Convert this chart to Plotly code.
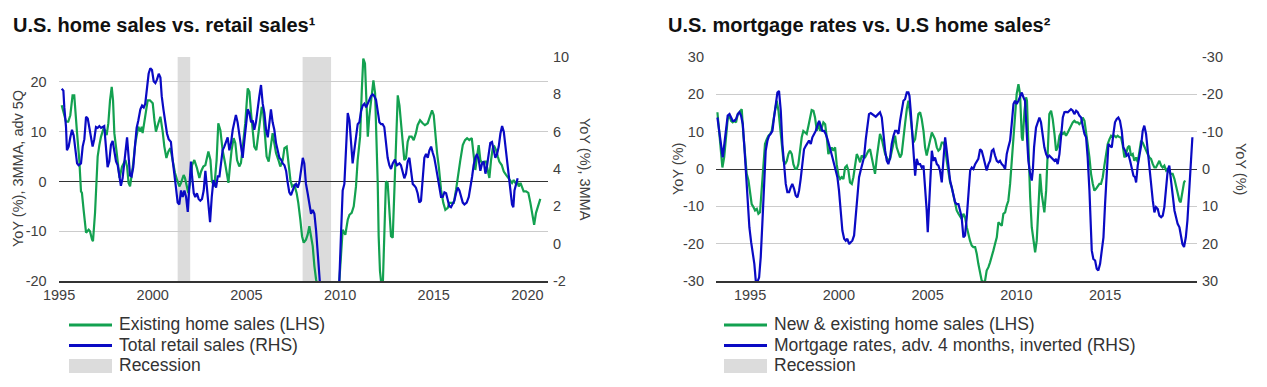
import plotly.graph_objects as go

W, H = 1267, 387

# ---------------- DATA: left chart (U.S. home sales vs. retail sales) ----------------
existing_home_sales = [  # (year, YoY %, LHS)
    (1995.14, 15.3), (1995.37, 12.0), (1995.49, 12.0), (1995.60, 13.3), (1995.72, 17.3), (1995.81, 17.3),
    (1995.96, 9.7), (1996.08, 4.3), (1996.17, -2.0), (1996.22, -2.3), (1996.31, -5.7), (1996.44, -10.3),
    (1996.58, -9.7), (1996.65, -10.0), (1996.76, -11.7), (1996.81, -12.0), (1996.92, -6.3), (1997.06, 5.0),
    (1997.15, 7.3), (1997.24, 9.0), (1997.38, 10.7), (1997.45, 10.3), (1997.54, 9.3), (1997.63, 11.7),
    (1997.72, 16.3), (1997.81, 19.0), (1997.88, 16.3), (1997.95, 9.7), (1998.06, 6.3), (1998.14, 3.0),
    (1998.23, 0.7), (1998.36, 3.0), (1998.45, 3.7), (1998.54, 4.3), (1998.63, 3.0), (1998.71, -0.3),
    (1998.79, -1.0), (1998.87, 1.0), (1998.96, 3.7), (1999.07, 7.7), (1999.23, 11.0), (1999.34, 10.0),
    (1999.41, 11.0), (1999.46, 9.7), (1999.59, 13.0), (1999.73, 16.3), (1999.85, 16.3), (2000.00, 15.7),
    (2000.09, 12.3), (2000.17, 10.0), (2000.30, 11.7), (2000.41, 13.0), (2000.53, 10.0), (2000.62, 7.0),
    (2000.73, 4.7), (2000.83, 6.0), (2000.94, 6.7), (2001.06, 4.0), (2001.19, 1.7), (2001.30, 0.3),
    (2001.42, -1.0), (2001.51, -0.3), (2001.65, 1.3), (2001.72, 0.7), (2001.83, -1.0), (2001.90, -2.3),
    (2001.99, -0.3), (2002.10, 3.3), (2002.22, 4.3), (2002.36, 2.7), (2002.49, 0.7), (2002.58, 2.0),
    (2002.70, 3.0), (2002.81, 3.3), (2002.97, 6.0), (2003.08, 4.3), (2003.16, 0.0), (2003.29, -1.0),
    (2003.41, 4.3), (2003.50, 11.7), (2003.61, 10.3), (2003.73, 6.3), (2003.86, 3.7), (2003.96, 1.0),
    (2004.04, -0.3), (2004.12, 3.0), (2004.21, 6.3), (2004.32, 8.7), (2004.41, 7.7), (2004.50, 4.3),
    (2004.62, 3.0), (2004.71, 3.7), (2004.84, 7.7), (2004.94, 11.7), (2005.07, 18.7), (2005.16, 18.0),
    (2005.25, 13.7), (2005.34, 10.3), (2005.42, 7.0), (2005.53, 6.3), (2005.64, 9.7), (2005.73, 13.0),
    (2005.82, 15.0), (2005.90, 13.7), (2005.99, 9.0), (2006.08, 5.0), (2006.19, 4.0), (2006.28, 6.3),
    (2006.40, 9.7), (2006.49, 7.7), (2006.58, 5.7), (2006.71, 4.3), (2006.81, 3.0), (2006.94, 4.3),
    (2007.03, 6.7), (2007.15, 7.0), (2007.24, 4.3), (2007.35, 0.3), (2007.44, -1.0), (2007.56, -0.7),
    (2007.68, -2.3), (2007.77, -4.3), (2007.88, -7.7), (2007.97, -11.0), (2008.06, -12.3), (2008.18, -11.7),
    (2008.27, -10.7), (2008.36, -9.0), (2008.45, -11.0), (2008.54, -13.0), (2008.63, -17.0), (2008.72, -19.7),
    (2008.90, -23.0), (2009.20, -26.0), (2009.50, -26.5), (2009.80, -23.5), (2009.96, -20.0), (2010.14, -9.7),
    (2010.28, -10.7), (2010.41, -7.7), (2010.50, -6.7), (2010.62, -6.3), (2010.73, -5.0), (2010.85, -1.0),
    (2010.94, 4.3), (2011.07, 9.0), (2011.16, 18.3), (2011.24, 24.7), (2011.33, 23.7), (2011.42, 16.3),
    (2011.48, 9.0), (2011.56, 13.0), (2011.69, 17.0), (2011.78, 20.3), (2011.87, 17.7), (2011.96, 8.3),
    (2012.01, -0.3), (2012.06, -11.0), (2012.13, -18.0), (2012.20, -20.5), (2012.28, -21.0), (2012.36, -11.0),
    (2012.45, 0.0), (2012.54, -0.3), (2012.63, -5.0), (2012.72, -11.0), (2012.81, -11.3), (2012.90, -0.3),
    (2012.99, 11.0), (2013.08, 17.3), (2013.17, 15.3), (2013.25, 12.3), (2013.34, 7.7), (2013.43, 4.3),
    (2013.52, 4.7), (2013.61, 8.0), (2013.70, 9.0), (2013.82, 9.0), (2013.93, 8.3), (2014.05, 9.7),
    (2014.14, 11.3), (2014.27, 12.3), (2014.41, 11.7), (2014.53, 11.3), (2014.68, 11.7), (2014.80, 13.3),
    (2014.91, 14.3), (2015.00, 13.3), (2015.09, 9.0), (2015.18, 5.7), (2015.27, 3.0), (2015.39, -1.7),
    (2015.51, -4.3), (2015.62, -5.7), (2015.75, -5.3), (2015.83, -4.3), (2015.96, -4.3), (2016.07, -4.3),
    (2016.19, -1.7), (2016.32, 2.3), (2016.42, 4.3), (2016.55, 7.3), (2016.67, 8.3), (2016.78, 8.7),
    (2016.90, 8.3), (2017.03, 8.7), (2017.13, 5.0), (2017.22, 2.3), (2017.31, 5.0), (2017.40, 7.3),
    (2017.49, 4.3), (2017.58, 3.7), (2017.70, 4.0), (2017.79, 4.0), (2017.88, 2.3), (2017.97, 0.7),
    (2018.06, 4.3), (2018.15, 6.7), (2018.24, 7.0), (2018.33, 6.3), (2018.42, 5.0), (2018.50, 4.0),
    (2018.63, 3.3), (2018.74, 2.0), (2018.86, 1.3), (2018.99, 0.7), (2019.09, 0.3), (2019.18, -0.3),
    (2019.27, 0.3), (2019.36, -0.3), (2019.45, 0.0), (2019.54, -1.0), (2019.63, -0.3), (2019.72, -1.3),
    (2019.80, -2.0), (2019.93, -2.0), (2020.05, -2.3), (2020.16, -4.3), (2020.25, -6.3), (2020.36, -8.7),
    (2020.46, -6.3), (2020.59, -4.7), (2020.69, -3.5),
]

total_retail_sales = [  # (year, YoY %, RHS)
    (1995.14, 8.3), (1995.23, 8.2), (1995.28, 7.3), (1995.37, 6.25), (1995.42, 5.0), (1995.51, 5.2),
    (1995.60, 5.7), (1995.69, 6.1), (1995.78, 5.8), (1995.87, 5.0), (1995.96, 4.3), (1996.04, 4.2),
    (1996.17, 4.3), (1996.26, 5.2), (1996.35, 5.6), (1996.44, 6.8), (1996.53, 6.7), (1996.61, 6.25),
    (1996.70, 5.6), (1996.79, 5.2), (1996.88, 5.6), (1996.97, 6.25), (1997.06, 6.2), (1997.15, 6.3),
    (1997.24, 6.2), (1997.33, 6.25), (1997.41, 6.3), (1997.50, 5.2), (1997.59, 4.1), (1997.68, 4.4),
    (1997.77, 5.3), (1997.86, 5.5), (1997.95, 5.0), (1998.04, 4.4), (1998.13, 4.2), (1998.22, 3.7),
    (1998.30, 3.1), (1998.39, 3.5), (1998.48, 4.3), (1998.57, 5.0), (1998.63, 5.7), (1998.70, 4.8),
    (1998.79, 3.65), (1998.87, 3.6), (1998.96, 4.1), (1999.05, 5.2), (1999.14, 6.2), (1999.23, 6.6),
    (1999.34, 7.2), (1999.43, 7.4), (1999.52, 7.3), (1999.60, 7.5), (1999.69, 8.4), (1999.78, 9.1),
    (1999.87, 9.4), (1999.96, 9.3), (2000.05, 8.7), (2000.14, 8.6), (2000.23, 8.8), (2000.32, 9.1),
    (2000.41, 8.9), (2000.48, 7.9), (2000.57, 7.2), (2000.66, 6.6), (2000.76, 5.9), (2000.85, 5.6),
    (2000.97, 5.45), (2001.06, 4.5), (2001.15, 3.6), (2001.24, 3.0), (2001.33, 2.2), (2001.42, 2.1),
    (2001.51, 2.85), (2001.60, 2.5), (2001.69, 2.85), (2001.78, 2.5), (2001.87, 1.7), (2001.95, 2.85),
    (2002.04, 4.4), (2002.10, 3.6), (2002.19, 2.7), (2002.27, 2.5), (2002.36, 2.7), (2002.45, 2.4),
    (2002.54, 2.3), (2002.63, 2.4), (2002.72, 2.85), (2002.81, 3.9), (2002.90, 2.9), (2002.98, 1.6),
    (2003.06, 1.15), (2003.15, 2.5), (2003.24, 3.4), (2003.38, 3.0), (2003.47, 3.6), (2003.56, 3.6),
    (2003.64, 4.3), (2003.73, 5.0), (2003.82, 5.2), (2003.91, 5.5), (2004.00, 5.7), (2004.09, 5.0),
    (2004.18, 5.4), (2004.27, 6.1), (2004.36, 6.5), (2004.44, 6.9), (2004.53, 6.5), (2004.62, 5.9),
    (2004.71, 5.2), (2004.80, 4.6), (2004.89, 5.5), (2004.98, 6.25), (2005.07, 7.2), (2005.16, 7.0),
    (2005.25, 6.5), (2005.34, 6.6), (2005.42, 6.1), (2005.51, 6.5), (2005.60, 7.3), (2005.69, 7.9),
    (2005.78, 8.5), (2005.87, 7.5), (2005.96, 7.0), (2006.05, 6.1), (2006.14, 5.7), (2006.22, 6.4),
    (2006.31, 7.2), (2006.40, 6.5), (2006.49, 6.1), (2006.58, 5.4), (2006.67, 5.0), (2006.76, 4.6),
    (2006.85, 4.5), (2006.94, 4.3), (2007.03, 4.2), (2007.12, 3.9), (2007.20, 3.3), (2007.29, 2.75),
    (2007.38, 2.6), (2007.47, 2.85), (2007.56, 3.1), (2007.65, 3.2), (2007.74, 3.0), (2007.83, 3.3),
    (2007.92, 3.9), (2008.01, 4.6), (2008.09, 4.3), (2008.18, 3.2), (2008.27, 2.7), (2008.36, 2.1),
    (2008.45, 1.6), (2008.54, 1.8), (2008.63, 1.6), (2008.72, 0.7), (2008.81, -0.7), (2008.90, -2.0),
    (2009.10, -4.5), (2009.35, -6.0), (2009.60, -5.5), (2009.85, -3.5), (2009.96, -2.0), (2010.05, 0.5),
    (2010.14, 2.85), (2010.23, 3.2), (2010.32, 5.2), (2010.41, 7.0), (2010.50, 6.6), (2010.59, 5.4),
    (2010.67, 4.3), (2010.76, 5.0), (2010.85, 5.7), (2010.94, 6.4), (2011.03, 6.5), (2011.12, 7.1),
    (2011.21, 7.4), (2011.30, 7.5), (2011.39, 7.3), (2011.48, 7.5), (2011.56, 7.7), (2011.65, 7.9),
    (2011.74, 8.0), (2011.83, 7.9), (2011.92, 7.7), (2012.01, 7.2), (2012.10, 6.5), (2012.19, 6.4),
    (2012.27, 6.4), (2012.36, 6.25), (2012.45, 5.4), (2012.54, 4.6), (2012.63, 4.2), (2012.72, 4.0),
    (2012.81, 4.3), (2012.93, 4.5), (2013.04, 4.2), (2013.17, 4.3), (2013.25, 4.2), (2013.34, 3.9),
    (2013.43, 3.5), (2013.52, 3.75), (2013.61, 4.4), (2013.70, 4.6), (2013.79, 3.9), (2013.88, 3.2),
    (2013.97, 3.1), (2014.05, 3.0), (2014.14, 2.7), (2014.23, 2.2), (2014.32, 2.3), (2014.41, 3.6),
    (2014.50, 4.6), (2014.59, 4.8), (2014.68, 4.6), (2014.77, 5.0), (2014.86, 5.2), (2014.94, 4.9),
    (2015.03, 4.6), (2015.12, 4.1), (2015.21, 3.6), (2015.30, 3.0), (2015.39, 2.5), (2015.48, 2.5),
    (2015.57, 2.75), (2015.66, 2.7), (2015.75, 2.4), (2015.83, 2.0), (2015.92, 1.95), (2016.01, 2.1),
    (2016.10, 2.3), (2016.19, 2.7), (2016.28, 3.0), (2016.37, 2.85), (2016.46, 2.5), (2016.55, 2.2),
    (2016.64, 2.1), (2016.76, 2.2), (2016.87, 2.5), (2016.96, 3.0), (2017.05, 3.6), (2017.13, 4.2),
    (2017.22, 4.6), (2017.31, 4.8), (2017.40, 4.5), (2017.49, 3.9), (2017.58, 4.3), (2017.67, 4.4),
    (2017.76, 3.75), (2017.85, 4.2), (2017.94, 5.0), (2018.02, 5.4), (2018.11, 5.45), (2018.20, 5.0),
    (2018.29, 4.6), (2018.38, 4.8), (2018.47, 5.2), (2018.56, 5.9), (2018.65, 6.3), (2018.74, 6.0),
    (2018.83, 5.2), (2018.92, 4.3), (2019.00, 3.6), (2019.09, 2.85), (2019.18, 2.1), (2019.25, 1.95),
    (2019.31, 2.85), (2019.40, 3.2), (2019.48, 3.5),
]

recession_start = [2001.33, 2008.00]
recession_end = [2002.00, 2009.52]

left_x_ticks = [1995, 2000, 2005, 2010, 2015, 2020]
left_y_ticks = [-20, -10, 0, 10, 20, 25]
left_y_labels = ["-20", "-10", "0", "10", "20", ""]
left_y2_ticks = [-2, 0, 2, 4, 6, 8, 10]
left_y2_labels = ["-2", "0", "2", "4", "6", "8", "10"]

# ---------------- DATA: right chart (mortgage rates vs. home sales) ----------------
new_existing_home_sales = [  # (year, YoY %, LHS)
    (1993.16, 15.2), (1993.27, 8.5), (1993.37, 3.1), (1993.44, 0.4), (1993.54, 3.1), (1993.65, 9.4),
    (1993.74, 13.4), (1993.84, 14.3), (1993.93, 12.9), (1994.02, 12.5), (1994.12, 12.9), (1994.21, 12.5),
    (1994.31, 14.7), (1994.40, 15.2), (1994.53, 16.0), (1994.62, 9.4), (1994.72, 3.1), (1994.81, -1.3),
    (1994.91, -3.1), (1995.00, -5.8), (1995.09, -9.4), (1995.19, -10.2), (1995.28, -11.1), (1995.38, -10.7),
    (1995.47, -12.0), (1995.56, -11.6), (1995.66, -4.9), (1995.75, 3.1), (1995.84, 6.7), (1995.94, 8.0),
    (1996.03, 8.9), (1996.13, 9.4), (1996.22, 10.2), (1996.31, 12.9), (1996.41, 16.5), (1996.50, 18.3),
    (1996.60, 15.6), (1996.69, 11.1), (1996.78, 5.8), (1996.88, 2.2), (1996.97, 1.3), (1997.07, 2.2),
    (1997.16, 4.0), (1997.25, 4.9), (1997.35, 4.0), (1997.44, 1.3), (1997.54, 0.0), (1997.63, 0.0),
    (1997.72, 1.3), (1997.82, 4.9), (1997.91, 8.5), (1998.00, 10.2), (1998.10, 9.8), (1998.19, 9.4),
    (1998.29, 11.6), (1998.38, 14.3), (1998.47, 15.8), (1998.57, 15.6), (1998.66, 13.8), (1998.76, 10.2),
    (1998.85, 12.5), (1998.94, 10.2), (1999.04, 11.1), (1999.13, 12.5), (1999.23, 12.0), (1999.32, 8.5),
    (1999.41, 4.0), (1999.51, 4.9), (1999.60, 5.8), (1999.69, 4.9), (1999.79, 5.8), (1999.88, 1.3),
    (1999.98, -1.8), (2000.07, -2.7), (2000.16, -2.2), (2000.26, -2.7), (2000.35, 0.4), (2000.45, 0.9),
    (2000.54, -0.4), (2000.63, -3.6), (2000.73, -4.0), (2000.82, -2.2), (2000.92, 1.8), (2001.01, 4.0),
    (2001.10, 3.1), (2001.20, 1.8), (2001.29, 3.6), (2001.39, 3.1), (2001.48, 3.1), (2001.57, 4.0),
    (2001.67, 4.9), (2001.76, 5.3), (2001.85, 3.1), (2001.95, 0.4), (2002.04, -1.3), (2002.14, 3.1),
    (2002.23, 6.7), (2002.32, 9.4), (2002.42, 8.0), (2002.51, 5.8), (2002.61, 4.0), (2002.70, 3.1),
    (2002.79, 2.2), (2002.89, 2.7), (2002.98, 4.9), (2003.08, 7.6), (2003.17, 8.9), (2003.26, 5.8),
    (2003.36, 4.0), (2003.45, 3.1), (2003.54, 4.0), (2003.64, 7.6), (2003.73, 12.0), (2003.83, 16.0),
    (2003.92, 18.3), (2004.01, 15.2), (2004.11, 11.1), (2004.20, 7.1), (2004.30, 8.0), (2004.39, 11.6),
    (2004.48, 14.7), (2004.58, 15.2), (2004.67, 13.4), (2004.77, 10.2), (2004.86, 5.8), (2004.95, 3.6),
    (2005.05, 5.8), (2005.14, 8.5), (2005.24, 9.8), (2005.33, 8.9), (2005.42, 8.0), (2005.52, 5.8),
    (2005.61, 4.9), (2005.70, 5.3), (2005.80, 7.1), (2005.89, 7.1), (2005.99, 5.8), (2006.08, 2.2),
    (2006.17, -1.3), (2006.27, -3.6), (2006.36, -4.9), (2006.46, -7.1), (2006.55, -9.4), (2006.64, -11.1),
    (2006.74, -12.0), (2006.83, -12.9), (2006.92, -13.4), (2007.02, -12.0), (2007.11, -12.9), (2007.21, -15.6),
    (2007.30, -17.8), (2007.39, -19.2), (2007.49, -20.5), (2007.58, -20.9), (2007.68, -20.9), (2007.77, -22.7),
    (2007.86, -25.4), (2007.96, -28.1), (2008.05, -29.9), (2008.15, -30.3), (2008.24, -29.9), (2008.33, -27.2),
    (2008.43, -26.3), (2008.52, -25.0), (2008.62, -23.6), (2008.71, -21.8), (2008.80, -20.1), (2008.90, -18.3),
    (2008.99, -14.3), (2009.08, -14.7), (2009.18, -15.2), (2009.27, -12.0), (2009.37, -11.6), (2009.46, -9.8),
    (2009.55, -8.5), (2009.65, -4.0), (2009.74, 2.2), (2009.84, 9.4), (2009.93, 15.6), (2010.02, 20.1),
    (2010.12, 22.7), (2010.21, 20.1), (2010.31, 8.5), (2010.36, 7.6), (2010.46, 15.6), (2010.55, 19.2),
    (2010.60, 18.3), (2010.68, 4.9), (2010.78, -7.6), (2010.87, -15.6), (2010.96, -19.6), (2011.06, -22.3),
    (2011.15, -19.2), (2011.24, -10.2), (2011.34, -1.3), (2011.43, -6.7), (2011.53, -11.1), (2011.58, -11.6),
    (2011.68, -5.8), (2011.77, 4.0), (2011.86, 14.7), (2011.96, 15.6), (2012.05, 13.4), (2012.15, 9.4),
    (2012.24, 4.9), (2012.33, 5.8), (2012.43, 8.9), (2012.52, 9.8), (2012.62, 9.4), (2012.71, 9.8),
    (2012.80, 8.9), (2012.90, 9.8), (2012.99, 10.7), (2013.08, 11.6), (2013.18, 12.5), (2013.27, 12.9),
    (2013.37, 12.5), (2013.46, 12.5), (2013.55, 12.0), (2013.65, 12.5), (2013.74, 13.8), (2013.84, 12.9),
    (2013.93, 10.2), (2014.02, 6.7), (2014.12, 3.1), (2014.21, -1.3), (2014.31, -4.0), (2014.40, -5.8),
    (2014.49, -5.3), (2014.59, -4.5), (2014.68, -4.0), (2014.77, -4.0), (2014.87, -2.2), (2014.96, 0.9),
    (2015.06, 4.0), (2015.15, 6.7), (2015.25, 8.0), (2015.34, 8.9), (2015.43, 8.5), (2015.53, 8.9),
    (2015.62, 8.5), (2015.71, 8.9), (2015.81, 8.5), (2015.90, 8.5), (2016.00, 6.2), (2016.09, 3.1),
    (2016.18, 4.0), (2016.28, 5.8), (2016.37, 6.2), (2016.46, 3.6), (2016.56, 4.0), (2016.65, 2.2),
    (2016.75, 3.1), (2016.84, 1.8), (2016.93, 4.5), (2017.03, 7.6), (2017.12, 7.1), (2017.22, 5.8),
    (2017.31, 4.9), (2017.40, 4.0), (2017.50, 3.1), (2017.59, 2.7), (2017.69, 1.3), (2017.78, 0.4),
    (2017.87, 0.4), (2017.97, 1.3), (2018.06, 2.2), (2018.16, 0.9), (2018.25, 0.4), (2018.34, 0.9),
    (2018.44, -0.4), (2018.53, 0.0), (2018.62, -0.9), (2018.72, -1.3), (2018.81, -1.3), (2018.91, -2.7),
    (2019.00, -4.9), (2019.09, -6.7), (2019.19, -8.5), (2019.26, -8.9), (2019.36, -5.8), (2019.45, -3.6),
    (2019.51, -3.1),
]

mortgage_rates = [  # (year, YoY %, RHS, axis inverted)
    (1993.16, -13.8), (1993.27, -10.2), (1993.37, -5.8), (1993.46, -3.1), (1993.55, -6.7), (1993.65, -11.6),
    (1993.74, -14.3), (1993.84, -14.7), (1993.93, -13.8), (1994.02, -12.9), (1994.12, -12.9), (1994.21, -13.4),
    (1994.31, -14.7), (1994.40, -15.2), (1994.49, -14.3), (1994.59, -12.0), (1994.68, -5.8), (1994.77, 2.2),
    (1994.87, 9.4), (1994.96, 15.6), (1995.06, 19.6), (1995.15, 22.7), (1995.24, 25.4), (1995.32, 29.9),
    (1995.41, 30.3), (1995.51, 29.0), (1995.60, 23.6), (1995.69, 14.7), (1995.79, 3.1), (1995.88, -4.9),
    (1995.98, -7.6), (1996.07, -8.9), (1996.16, -9.4), (1996.26, -10.2), (1996.35, -13.8), (1996.45, -18.3),
    (1996.54, -20.5), (1996.63, -20.9), (1996.73, -15.6), (1996.82, -6.7), (1996.92, -0.4), (1997.01, 4.0),
    (1997.10, 6.2), (1997.20, 6.2), (1997.29, 4.9), (1997.38, 4.0), (1997.48, 5.3), (1997.57, 7.1),
    (1997.67, 7.6), (1997.76, 5.8), (1997.85, 2.7), (1997.95, -1.3), (1998.04, -5.3), (1998.14, -6.2),
    (1998.23, -7.1), (1998.32, -7.6), (1998.42, -6.7), (1998.51, -8.5), (1998.61, -9.4), (1998.70, -10.2),
    (1998.79, -11.6), (1998.89, -12.9), (1998.98, -11.6), (1999.07, -10.2), (1999.17, -10.2), (1999.26, -9.4),
    (1999.36, -8.0), (1999.45, -6.7), (1999.54, -4.9), (1999.64, -3.1), (1999.73, -1.3), (1999.83, 0.4),
    (1999.92, 2.2), (2000.01, 5.8), (2000.11, 11.1), (2000.20, 16.5), (2000.30, 18.7), (2000.39, 19.2),
    (2000.48, 18.7), (2000.58, 20.1), (2000.67, 19.6), (2000.76, 19.2), (2000.86, 17.8), (2000.95, 12.9),
    (2001.05, 5.8), (2001.14, 2.2), (2001.23, 0.4), (2001.33, -1.3), (2001.42, -3.1), (2001.52, -8.0),
    (2001.61, -12.0), (2001.70, -14.7), (2001.80, -15.0), (2001.89, -14.7), (2001.99, -14.3), (2002.08, -14.0),
    (2002.18, -14.5), (2002.27, -15.0), (2002.32, -15.2), (2002.42, -13.8), (2002.51, -9.4), (2002.61, -4.9),
    (2002.70, -2.2), (2002.79, -1.3), (2002.89, -3.1), (2002.98, -6.7), (2003.08, -8.9), (2003.17, -10.2),
    (2003.26, -10.2), (2003.36, -9.4), (2003.45, -12.9), (2003.54, -15.6), (2003.64, -18.3), (2003.73, -18.7),
    (2003.83, -20.5), (2003.92, -20.5), (2003.98, -19.6), (2004.05, -15.6), (2004.15, -8.5), (2004.24, -2.2),
    (2004.30, 1.8), (2004.39, -2.7), (2004.48, -1.3), (2004.58, -1.3), (2004.67, -0.4), (2004.77, -0.9),
    (2004.86, 4.0), (2004.95, 11.1), (2005.01, 16.9), (2005.08, 10.2), (2005.16, -0.4), (2005.24, -4.9),
    (2005.33, -2.2), (2005.42, -3.1), (2005.52, -1.3), (2005.61, -0.9), (2005.70, 0.4), (2005.80, 3.6),
    (2005.89, -2.2), (2005.99, -8.5), (2006.08, -4.9), (2006.17, -0.4), (2006.27, 3.1), (2006.36, 4.9),
    (2006.46, 6.7), (2006.55, 8.9), (2006.64, 9.4), (2006.74, 9.4), (2006.83, 11.1), (2006.92, 12.9),
    (2007.02, 18.3), (2007.11, 17.8), (2007.21, 12.9), (2007.30, 6.7), (2007.40, 0.4), (2007.49, -0.4),
    (2007.58, 0.0), (2007.68, -1.3), (2007.77, -2.2), (2007.86, -2.7), (2007.96, -5.3), (2008.05, -4.9),
    (2008.15, -3.1), (2008.24, -1.3), (2008.33, 0.4), (2008.43, -1.3), (2008.52, -2.2), (2008.62, -4.9),
    (2008.71, -5.3), (2008.80, -3.6), (2008.90, -2.2), (2008.99, -1.8), (2009.08, -2.2), (2009.18, -1.3),
    (2009.27, -0.9), (2009.37, 0.0), (2009.46, -4.0), (2009.55, -5.8), (2009.65, -7.6), (2009.74, -12.0),
    (2009.84, -17.4), (2009.93, -18.3), (2010.02, -17.4), (2010.12, -18.3), (2010.21, -19.2), (2010.31, -20.5),
    (2010.40, -19.2), (2010.49, -18.3), (2010.59, -9.4), (2010.68, -2.2), (2010.78, 1.3), (2010.87, 3.1),
    (2010.93, 0.4), (2011.00, -5.8), (2011.11, -11.1), (2011.21, -12.5), (2011.30, -13.8), (2011.39, -12.5),
    (2011.49, -8.5), (2011.58, -5.8), (2011.68, -4.0), (2011.77, -3.1), (2011.86, -3.6), (2011.96, -3.1),
    (2012.05, -2.7), (2012.15, -2.2), (2012.24, -2.7), (2012.33, -1.3), (2012.43, -4.0), (2012.52, -9.4),
    (2012.62, -13.8), (2012.71, -15.2), (2012.80, -15.3), (2012.90, -15.2), (2012.99, -15.6), (2013.08, -16.0),
    (2013.18, -15.6), (2013.27, -14.7), (2013.37, -15.6), (2013.46, -15.2), (2013.55, -14.3), (2013.65, -13.8),
    (2013.74, -11.6), (2013.84, -9.4), (2013.93, -8.5), (2014.02, -3.1), (2014.12, 5.8), (2014.19, 15.6),
    (2014.25, 21.8), (2014.34, 24.1), (2014.44, 24.5), (2014.53, 26.7), (2014.62, 27.2), (2014.72, 25.4),
    (2014.81, 21.4), (2014.91, 18.3), (2015.00, 9.4), (2015.09, 2.2), (2015.19, -6.7), (2015.28, -6.2),
    (2015.38, -5.8), (2015.47, -9.4), (2015.56, -12.5), (2015.66, -13.4), (2015.75, -13.8), (2015.84, -12.9),
    (2015.94, -10.2), (2016.03, -5.8), (2016.13, -4.9), (2016.22, -3.6), (2016.31, -4.0), (2016.41, -2.2),
    (2016.50, -0.4), (2016.60, 1.8), (2016.69, 2.2), (2016.75, 3.6), (2016.84, -0.9), (2016.93, -3.1),
    (2017.03, -6.2), (2017.12, -10.2), (2017.21, -11.6), (2017.31, -9.4), (2017.40, -4.9), (2017.50, -1.3),
    (2017.59, 4.0), (2017.69, 8.5), (2017.78, 11.6), (2017.87, 10.2), (2017.97, 10.7), (2018.06, 12.5),
    (2018.16, 12.9), (2018.25, 12.5), (2018.34, 10.2), (2018.44, 4.9), (2018.53, 0.4), (2018.62, -0.9),
    (2018.72, 3.1), (2018.81, 7.6), (2018.91, 11.1), (2019.00, 12.9), (2019.09, 14.7), (2019.19, 15.6),
    (2019.26, 17.4), (2019.36, 20.1), (2019.45, 20.9), (2019.55, 18.3), (2019.64, 13.8), (2019.73, 5.8),
    (2019.83, -2.2), (2019.92, -8.5),
]

right_x_ticks = [1995, 2000, 2005, 2010, 2015]
right_y_ticks = [-30, -20, -10, 0, 10, 20, 30]
right_y_labels = ["-30", "-20", "-10", "0", "10", "20", "30"]

titles = ["U.S. home sales vs. retail sales¹", "U.S. mortgage rates vs. U.S home sales²"]
left_series_names = ["Existing home sales (LHS)", "Total retail sales (RHS)", "Recession"]
right_series_names = ["New & existing home sales (LHS)", "Mortgage rates, adv. 4 months, inverted (RHS)", "Recession"]

# ---------------- STYLE ----------------
GREEN = "#13a150"
BLUE = "#0a0ac4"
REC = "#dcdcdc"
GRID = "#cccccc"
AXIS = "#333333"
TICK = "#404040"
FONT = "Liberation Sans, Arial, sans-serif"


def px(x):
    return x / W


def py(y):
    return 1 - y / H


ydom = [py(281), py(57)]
left_dom = [px(58.7), px(548)]
right_dom = [px(716), px(1197)]

fig = go.Figure()


def split(pairs):
    return [p[0] for p in pairs], [p[1] for p in pairs]


hx, hy = split(existing_home_sales)
rx, ry = split(total_retail_sales)
nx, ny = split(new_existing_home_sales)
mx, my = split(mortgage_rates)

fig.add_trace(go.Scatter(x=hx, y=hy, mode="lines", name=left_series_names[0],
                         line=dict(color=GREEN, width=2.2), xaxis="x", yaxis="y", showlegend=False))
fig.add_trace(go.Scatter(x=rx, y=ry, mode="lines", name=left_series_names[1],
                         line=dict(color=BLUE, width=2.2), xaxis="x", yaxis="y2", showlegend=False))
fig.add_trace(go.Scatter(x=nx, y=ny, mode="lines", name=right_series_names[0],
                         line=dict(color=GREEN, width=2.2), xaxis="x2", yaxis="y3", showlegend=False))
fig.add_trace(go.Scatter(x=mx, y=my, mode="lines", name=right_series_names[1],
                         line=dict(color=BLUE, width=2.2), xaxis="x2", yaxis="y4", showlegend=False))

shapes = []
for s, e in zip(recession_start, recession_end):
    shapes.append(dict(type="rect", xref="x", yref="y domain", x0=s, x1=e, y0=0, y1=1,
                       fillcolor=REC, line=dict(width=0), layer="below"))

tickfont = dict(family=FONT, size=14.5, color=TICK)
xcommon = dict(showgrid=False, zeroline=False, showline=True, linecolor=AXIS, linewidth=1.5,
               ticks="", tickfont=tickfont, fixedrange=True, automargin=False)
ycommon = dict(ticks="", tickfont=tickfont, showline=False, automargin=False, fixedrange=True)

layout = dict(
    width=W, height=H, margin=dict(l=0, r=0, t=0, b=0, pad=0, autoexpand=False),
    paper_bgcolor="white", plot_bgcolor="white", showlegend=False,
    font=dict(family=FONT, color=TICK),
    xaxis=dict(domain=left_dom, range=[1994.98, 2021.1], anchor="y", tickvals=left_x_ticks,
               ticktext=[str(v) for v in left_x_ticks], **xcommon),
    yaxis=dict(domain=ydom, range=[-20, 25], anchor="x", tickvals=left_y_ticks, ticktext=left_y_labels,
               showgrid=True, gridcolor=GRID, gridwidth=1.2, zeroline=True, zerolinecolor=AXIS,
               zerolinewidth=1.3, ticklabelstandoff=11, **ycommon),
    yaxis2=dict(overlaying="y", side="right", anchor="x", range=[-2, 10], tickvals=left_y2_ticks,
                ticktext=left_y2_labels, showgrid=False, zeroline=False, ticklabelstandoff=4, **ycommon),
    xaxis2=dict(domain=right_dom, range=[1993.08, 2020.18], anchor="y3", tickvals=right_x_ticks,
                ticktext=[str(v) for v in right_x_ticks], **xcommon),
    yaxis3=dict(domain=ydom, range=[-30, 30], anchor="x2", tickvals=right_y_ticks, ticktext=right_y_labels,
                showgrid=True, gridcolor=GRID, gridwidth=1.2, zeroline=True, zerolinecolor=AXIS,
                zerolinewidth=1.3, ticklabelstandoff=11, **ycommon),
    yaxis4=dict(overlaying="y3", side="right", anchor="x2", range=[30, -30], tickvals=right_y_ticks,
                ticktext=right_y_labels, showgrid=False, zeroline=False, ticklabelstandoff=4, **ycommon),
)

annotations = []
# Titles
for text, x in zip(titles, [12, 667]):
    annotations.append(dict(text="<b>%s</b>" % text, xref="paper", yref="paper", x=px(x - 1), y=py(25),
                            xanchor="left", yanchor="middle", showarrow=False,
                            font=dict(family=FONT, size=20, color="#111111")))
# Axis titles
axis_titles = [("YoY (%), 3MMA, adv 5Q", 18, -90), ("YoY (%), 3MMA", 585, 90),
               ("YoY (%)", 678, -90), ("YoY (%)", 1241, 90)]
for text, x, ang in axis_titles:
    annotations.append(dict(text=text, xref="paper", yref="paper", x=px(x), y=py(169),
                            xanchor="center", yanchor="middle", textangle=ang, showarrow=False,
                            font=dict(family=FONT, size=14.5, color=TICK)))

# Custom legends (sample swatches + labels)
row_y = [325, 345.5, 365.5]
for names, x0 in [(left_series_names, 69), (right_series_names, 724)]:
    x1 = x0 + 43
    shapes.append(dict(type="line", xref="paper", yref="paper", x0=px(x0), x1=px(x1),
                       y0=py(row_y[0]), y1=py(row_y[0]), line=dict(color=GREEN, width=3)))
    shapes.append(dict(type="line", xref="paper", yref="paper", x0=px(x0), x1=px(x1),
                       y0=py(row_y[1]), y1=py(row_y[1]), line=dict(color=BLUE, width=3)))
    shapes.append(dict(type="rect", xref="paper", yref="paper", x0=px(x0), x1=px(x1),
                       y0=py(373), y1=py(359), fillcolor=REC, line=dict(width=0)))
    for name, yy in zip(names, row_y):
        annotations.append(dict(text=name, xref="paper", yref="paper", x=px(x1 + 5), y=py(yy - 1),
                                xanchor="left", yanchor="middle", showarrow=False,
                                font=dict(family=FONT, size=17.5, color="#333333")))

layout["shapes"] = shapes
layout["annotations"] = annotations
fig.update_layout(**layout)

fig.write_html(
    "out.html",
    config={"displayModeBar": False},
    post_script="document.body.style.margin='0';document.body.style.overflow='hidden';",
)
